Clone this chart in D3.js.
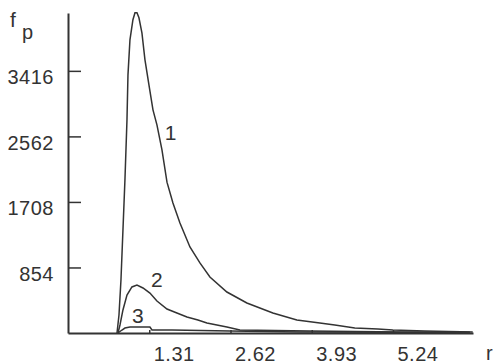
<!DOCTYPE html>
<html>
<head>
<meta charset="utf-8">
<script src="https://cdnjs.cloudflare.com/ajax/libs/d3/7.8.5/d3.min.js"></script>
<style>
  body { margin: 0; background: #fff; }
  svg text { font-family: "Liberation Sans", Arial, sans-serif; fill: #333; }
</style>
</head>
<body>
<div id="chart-area"></div>
<script>
// tick labels
var xTicks = [1.31, 2.62, 3.93, 5.24];
var yTicks = [854, 1708, 2562, 3416];

// curve 1 (r, fp)
var r1 = [0.79, 0.822, 0.854, 0.886, 0.918, 0.951, 0.967, 0.999, 1.047, 1.080, 1.112, 1.144, 1.192, 1.241, 1.305, 1.370, 1.434, 1.515, 1.596, 1.692, 1.805, 1.966, 2.127, 2.288, 2.562, 2.884, 3.303, 3.690, 4.061, 4.302, 4.624, 4.995, 5.237, 5.752, 6.526];
var f1 = [0, 235, 691, 1343, 1995, 2778, 3364, 3821, 4082, 4173, 4173, 4108, 3912, 3560, 3234, 2908, 2712, 2386, 1965, 1695, 1434, 1121, 913, 730, 534, 391, 261, 170, 130, 104, 65, 52, 39, 26, 13];

// curve 2
var r2 = [0.806, 0.838, 0.886, 0.951, 1.031, 1.112, 1.209, 1.321, 1.434, 1.596, 1.756, 1.918, 2.095, 2.240, 2.562, 2.772, 3.899, 5.350, 6.478];
var f2 = [0, 104, 300, 495, 600, 626, 587, 521, 417, 313, 261, 208, 170, 130, 78, 39, 26, 13, 10];

// curve 3
var r3 = [0.806, 0.870, 0.918, 0.999, 1.321, 1.354, 1.676, 2.610, 3.738, 6.478];
var f3 = [0, 39, 65, 78, 78, 39, 39, 26, 13, 6];

var curveNames = ["1", "2", "3"];

var W = 493, H = 364;
var margin = { left: 68, right: 20, top: 13, bottom: 31 };
var width = W - margin.left - margin.right,
    height = H - margin.top - margin.bottom;

var svg = d3.select("#chart-area")
  .append("svg")
    .attr("width", W)
    .attr("height", H);

var g = svg.append("g")
  .attr("transform", "translate(" + margin.left + "," + margin.top + ")");

var x = d3.scaleLinear().domain([0, 6.53]).range([0, width]);
var y = d3.scaleLinear().domain([0, 4170]).range([height, 0]);

var ink = "#333";

// y axis, ticks pointing inward
var yAxisCall = d3.axisLeft(y)
  .tickValues(yTicks)
  .tickSizeInner(-13)
  .tickSizeOuter(0)
  .tickPadding(14)
  .tickFormat(d3.format("d"));

var yg = g.append("g").attr("class", "y axis").call(yAxisCall);
yg.select(".domain").attr("stroke", ink).attr("stroke-width", 2);
yg.selectAll(".tick line").attr("stroke", ink).attr("stroke-width", 1.5);
yg.selectAll(".tick text")
  .attr("font-size", "20px")
  .attr("letter-spacing", "0.5px")
  .attr("dy", "0.65em")
  .attr("fill", ink);
yg.attr("font-family", null);

// x axis
var xAxisCall = d3.axisBottom(x)
  .tickValues(xTicks)
  .tickSizeInner(-3)
  .tickSizeOuter(0)
  .tickFormat(d3.format(".2f"));

var xg = g.append("g")
  .attr("class", "x axis")
  .attr("transform", "translate(0," + height + ")")
  .call(xAxisCall);
xg.select(".domain").attr("stroke", ink).attr("stroke-width", 2);
xg.selectAll(".tick line").attr("stroke", ink).attr("stroke-width", 1.5);
xg.selectAll(".tick text")
  .attr("font-size", "20px")
  .attr("letter-spacing", "0.5px")
  .attr("text-anchor", "start")
  .attr("x", 4)
  .attr("y", 28)
  .attr("dy", null)
  .attr("fill", ink);
xg.attr("font-family", null);

// curves
var line = d3.line()
  .x(function(d) { return x(d[0]); })
  .y(function(d) { return y(d[1]); });

var series = [
  d3.zip(r1, f1),
  d3.zip(r2, f2),
  d3.zip(r3, f3)
];

g.selectAll("path.curve")
  .data(series).enter()
  .append("path")
    .attr("class", "curve")
    .attr("d", line)
    .attr("fill", "none")
    .attr("stroke", ink)
    .attr("stroke-width", 1.5);

// curve labels
var labelPos = [[1.56, 2520], [1.34, 600], [1.03, 130]];
g.selectAll("text.clabel")
  .data(curveNames).enter()
  .append("text")
    .attr("class", "clabel")
    .attr("x", function(d, i) { return x(labelPos[i][0]); })
    .attr("y", function(d, i) { return y(labelPos[i][1]); })
    .attr("font-size", "21px")
    .text(function(d) { return d; });

// axis titles
svg.append("text")
  .attr("x", 10)
  .attr("y", 27)
  .attr("font-size", "21px")
  .text("f");
svg.append("text")
  .attr("x", 22)
  .attr("y", 39)
  .attr("font-size", "20px")
  .text("p");
svg.append("text")
  .attr("x", 486)
  .attr("y", 360)
  .attr("font-size", "20px")
  .text("r");
</script>
</body>
</html>
